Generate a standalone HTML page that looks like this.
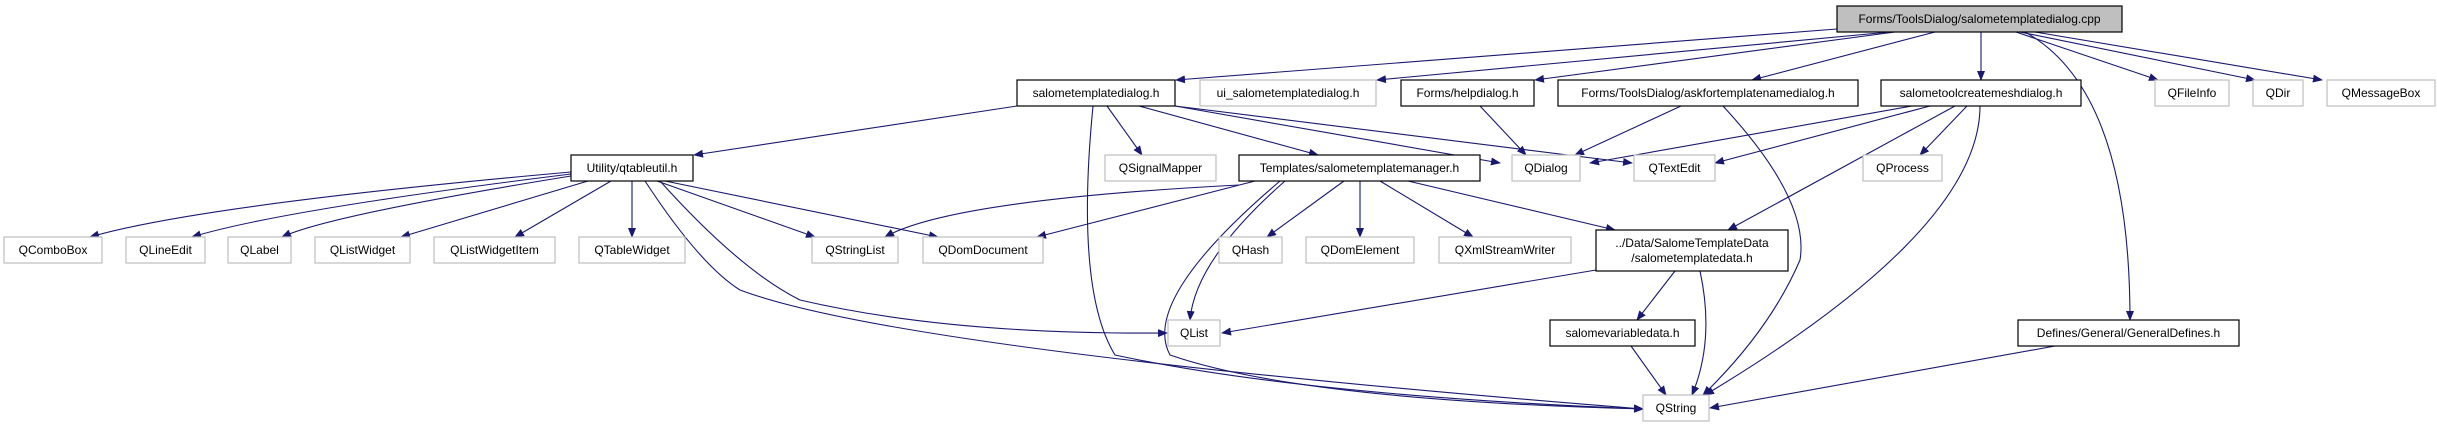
<!DOCTYPE html>
<html><head><meta charset="utf-8"><style>
html,body{margin:0;padding:0;background:#fff;width:2437px;height:427px;overflow:hidden}
svg{display:block}
text{font-family:"Liberation Sans",Arial,sans-serif;font-size:12px;fill:#000}
.b{fill:#fff;stroke:#000;stroke-width:1.2}
.g{fill:#fff;stroke:#bfbfbf;stroke-width:1.2}
.e{fill:none;stroke:#191970;stroke-width:1.1}
</style></head><body>
<svg width="2437" height="427" viewBox="0 0 2437 427" xmlns="http://www.w3.org/2000/svg">
<defs><marker id="a" markerWidth="10" markerHeight="8" refX="9" refY="4" orient="auto" markerUnits="userSpaceOnUse"><path d="M0,0 L10,4 L0,8 z" fill="#191970"/></marker></defs>
<g marker-end="url(#a)">
<!-- cpp edges -->
<path class="e" d="M1837,29 L1176,80"/>
<path class="e" d="M1890,32 L1377,80"/>
<path class="e" d="M1895,32 L1535,80"/>
<path class="e" d="M1935,32 L1752,80"/>
<path class="e" d="M1981,32 L1981,80"/>
<path class="e" d="M2016,32 L2158,80"/>
<path class="e" d="M2020,32 L2255,80"/>
<path class="e" d="M2035,32 L2322,80"/>
<path class="e" d="M2025,32 Q2130,90 2130,320"/>
<!-- salometemplatedialog.h -->
<path class="e" d="M1017,106 L694,155"/>
<path class="e" d="M1107,106 L1142,155"/>
<path class="e" d="M1139,106 L1318,155"/>
<path class="e" d="M1175,106 L1500,163"/>
<path class="e" d="M1175,106 L1632,163"/>
<path class="e" d="M1093,106 Q1075,290 1115,355 Q1300,395 1643,409"/>
<!-- qtableutil -->
<path class="e" d="M571,172 Q200,205 90,237"/>
<path class="e" d="M571,174 Q280,210 192,237"/>
<path class="e" d="M571,176 Q330,215 282,237"/>
<path class="e" d="M588,181 L401,237"/>
<path class="e" d="M611,181 L515,237"/>
<path class="e" d="M632,181 L632,237"/>
<path class="e" d="M657,181 L815,237"/>
<path class="e" d="M665,181 L938,237"/>
<path class="e" d="M660,181 Q740,270 800,300 Q950,335 1167,333"/>
<path class="e" d="M645,181 Q700,265 740,290 Q900,350 1643,409"/>
<!-- manager -->
<path class="e" d="M1239,185 Q950,200 885,237"/>
<path class="e" d="M1255,181 L1037,237"/>
<path class="e" d="M1285,181 Q1195,260 1190,320"/>
<path class="e" d="M1280,181 Q1140,300 1170,355 Q1300,400 1643,409"/>
<path class="e" d="M1344,181 L1267,237"/>
<path class="e" d="M1360,181 L1360,237"/>
<path class="e" d="M1380,181 L1473,237"/>
<path class="e" d="M1408,181 L1615,230"/>
<!-- helpdialog, askfor -->
<path class="e" d="M1480,106 L1526,155"/>
<path class="e" d="M1681,106 L1575,155"/>
<path class="e" d="M1723,106 Q1810,200 1800,260 Q1770,330 1703,395"/>
<!-- salometoolcreate -->
<path class="e" d="M1912,106 L1590,163"/>
<path class="e" d="M1930,106 L1715,163"/>
<path class="e" d="M1967,106 L1920,155"/>
<path class="e" d="M1955,106 L1728,230"/>
<path class="e" d="M1980,106 Q1980,230 1705,395"/>
<!-- data -->
<path class="e" d="M1596,270 L1222,333"/>
<path class="e" d="M1675,271 L1637,320"/>
<path class="e" d="M1700,271 Q1715,340 1692,395"/>
<path class="e" d="M1631,346 L1666,395"/>
<path class="e" d="M2055,346 L1710,408"/>
</g>
<!-- nodes -->
<rect x="1837" y="6" width="285" height="26" fill="#bfbfbf" stroke="#000" stroke-width="1.2"/><text x="1979.5" y="23" text-anchor="middle">Forms/ToolsDialog/salometemplatedialog.cpp</text>
<rect class="b" x="1017" y="80" width="158" height="26"/><text x="1096" y="97" text-anchor="middle">salometemplatedialog.h</text>
<rect class="g" x="1200" y="80" width="176" height="26"/><text x="1288" y="97" text-anchor="middle">ui_salometemplatedialog.h</text>
<rect class="b" x="1401" y="80" width="133" height="26"/><text x="1467.5" y="97" text-anchor="middle">Forms/helpdialog.h</text>
<rect class="b" x="1558" y="80" width="300" height="26"/><text x="1708" y="97" text-anchor="middle">Forms/ToolsDialog/askfortemplatenamedialog.h</text>
<rect class="b" x="1881" y="80" width="200" height="26"/><text x="1981" y="97" text-anchor="middle">salometoolcreatemeshdialog.h</text>
<rect class="g" x="2155" y="80" width="74" height="26"/><text x="2192" y="97" text-anchor="middle">QFileInfo</text>
<rect class="g" x="2253" y="80" width="50" height="26"/><text x="2278" y="97" text-anchor="middle">QDir</text>
<rect class="g" x="2327" y="80" width="108" height="26"/><text x="2381" y="97" text-anchor="middle">QMessageBox</text>
<rect class="b" x="571" y="155" width="122" height="26"/><text x="632" y="172" text-anchor="middle">Utility/qtableutil.h</text>
<rect class="g" x="1105" y="155" width="111" height="26"/><text x="1160.5" y="172" text-anchor="middle">QSignalMapper</text>
<rect class="b" x="1239" y="155" width="241" height="26"/><text x="1359.5" y="172" text-anchor="middle">Templates/salometemplatemanager.h</text>
<rect class="g" x="1512" y="155" width="68" height="26"/><text x="1546" y="172" text-anchor="middle">QDialog</text>
<rect class="g" x="1634" y="155" width="81" height="26"/><text x="1674.5" y="172" text-anchor="middle">QTextEdit</text>
<rect class="g" x="1863" y="155" width="79" height="26"/><text x="1902.5" y="172" text-anchor="middle">QProcess</text>
<rect class="g" x="4" y="237" width="98" height="26"/><text x="53" y="254" text-anchor="middle">QComboBox</text>
<rect class="g" x="126" y="237" width="79" height="26"/><text x="165.5" y="254" text-anchor="middle">QLineEdit</text>
<rect class="g" x="228" y="237" width="63" height="26"/><text x="259.5" y="254" text-anchor="middle">QLabel</text>
<rect class="g" x="315" y="237" width="95" height="26"/><text x="362.5" y="254" text-anchor="middle">QListWidget</text>
<rect class="g" x="434" y="237" width="121" height="26"/><text x="494.5" y="254" text-anchor="middle">QListWidgetItem</text>
<rect class="g" x="579" y="237" width="106" height="26"/><text x="632" y="254" text-anchor="middle">QTableWidget</text>
<rect class="g" x="812" y="237" width="86" height="26"/><text x="855" y="254" text-anchor="middle">QStringList</text>
<rect class="g" x="923" y="237" width="120" height="26"/><text x="983" y="254" text-anchor="middle">QDomDocument</text>
<rect class="g" x="1219" y="237" width="63" height="26"/><text x="1250.5" y="254" text-anchor="middle">QHash</text>
<rect class="g" x="1306" y="237" width="108" height="26"/><text x="1360" y="254" text-anchor="middle">QDomElement</text>
<rect class="g" x="1439" y="237" width="132" height="26"/><text x="1505" y="254" text-anchor="middle">QXmlStreamWriter</text>
<rect class="b" x="1596" y="230" width="192" height="41"/><text x="1692" y="247" text-anchor="middle">../Data/SalomeTemplateData</text><text x="1692" y="262" text-anchor="middle">/salometemplatedata.h</text>
<rect class="g" x="1168" y="320" width="52" height="26"/><text x="1194" y="337" text-anchor="middle">QList</text>
<rect class="b" x="1550" y="320" width="145" height="26"/><text x="1622.5" y="337" text-anchor="middle">salomevariabledata.h</text>
<rect class="b" x="2018" y="320" width="221" height="26"/><text x="2128.5" y="337" text-anchor="middle">Defines/General/GeneralDefines.h</text>
<rect class="g" x="1643" y="395" width="66" height="26"/><text x="1676" y="412" text-anchor="middle">QString</text>
</svg>
</body></html>
